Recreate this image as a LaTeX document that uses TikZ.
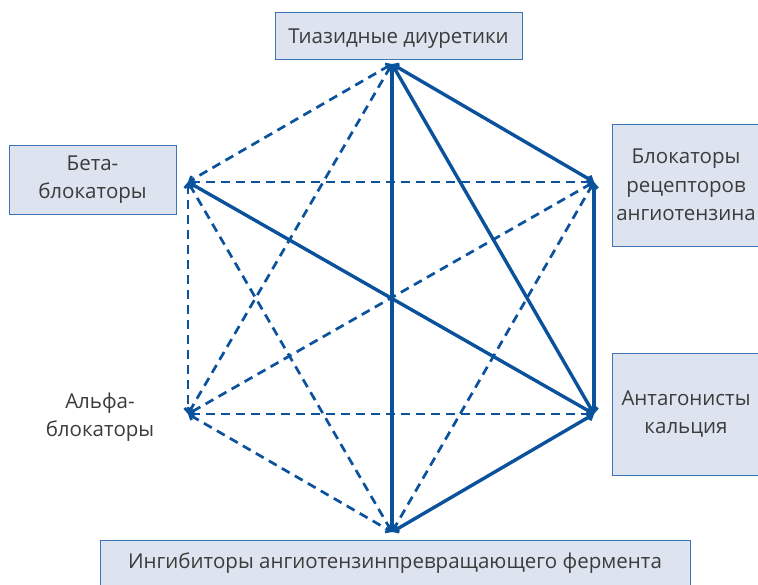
\documentclass[tikz,border=0pt]{standalone}
\usepackage{fontspec}
\setmainfont{Open Sans}
\usetikzlibrary{arrows.meta}
\definecolor{lineblue}{HTML}{0B529C}
\definecolor{boxedge}{HTML}{3F74B5}
\definecolor{boxfill}{HTML}{DDE3EF}
\definecolor{labelgrey}{HTML}{3C3C3C}

\begin{document}
\begin{tikzpicture}[x=1pt, y=-1pt,
    drugbox/.style = {draw=boxedge, fill=boxfill, line width=1pt, text=labelgrey,
                      align=center, inner sep=0pt, font=\fontsize{20.5}{28.5}\selectfont},
    drugtext/.style = {text=labelgrey, align=center, font=\fontsize{20.5}{28.5}\selectfont},
    combo/.style = {draw=lineblue, {Straight Barb[length=4pt,width=7pt]}-{Straight Barb[length=4pt,width=7pt]}},
    good/.style = {combo, line width=3.4pt},
    maybe/.style = {combo, line width=2.7pt, dash pattern=on 9pt off 6pt}]
  \clip (0,0) rectangle (758,584);
  \fill[white] (0,0) rectangle (758,584);

  % corners of the hexagon
  \coordinate (thz) at (392,64);
  \coordinate (arb) at (594,182);
  \coordinate (cca) at (594,414);
  \coordinate (ace) at (392,532);
  \coordinate (alf) at (188,414);
  \coordinate (bet) at (188,182);

  % labels
  \node[drugbox, minimum width=247pt, minimum height=47pt] (thzbox) at (398.5,35.5) {\raisebox{-3pt}[\height][\depth]{Тиазидные диуретики}};
  \node[drugbox, minimum width=167pt, minimum height=69pt] (betbox) at (92.5,179.5) {Бета-\\блокаторы};
  \node[drugbox, minimum width=148pt, minimum height=122pt] (arbbox) at (686,185) {Блокаторы\\рецепторов\\ангиотензина};
  \node[drugbox, minimum width=148pt, minimum height=122pt] (ccabox) at (686,414) {Антагонисты\\кальция};
  \node[drugbox, minimum width=590pt, minimum height=48pt] (acebox) at (395,564) {\raisebox{1pt}[\height][\depth]{Ингибиторы ангиотензинпревращающего фермента}};
  \node[drugtext] (alfbox) at (100,417) {Альфа-\\блокаторы};

  % possible combinations
  \foreach \a/\b in {thz/bet, thz/alf, bet/arb, bet/alf, bet/ace, alf/cca, alf/ace, arb/alf, arb/ace}
    \draw[maybe] (\a) -- (\b);

  % preferred combinations
  \foreach \a/\b in {thz/ace, thz/arb, thz/cca, bet/cca, arb/cca, cca/ace}
    \draw[good] (\a) -- (\b);
\end{tikzpicture}
\end{document}
